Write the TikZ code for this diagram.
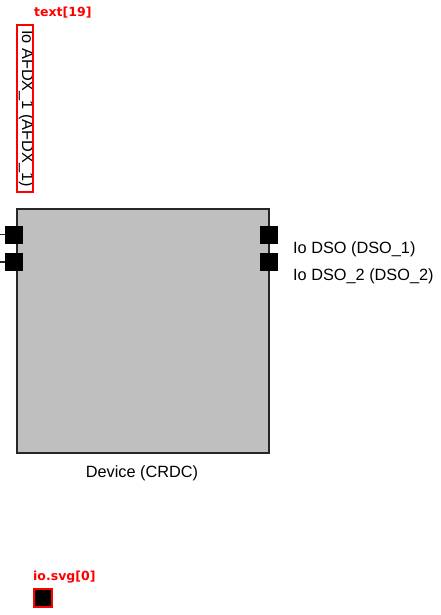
\documentclass[tikz,border=0pt]{standalone}
\usepackage{fontspec}
\setmainfont{Liberation Sans}
\newfontfamily\tagfont{DejaVu Sans}
\begin{document}
\begin{tikzpicture}[x=1pt,y=-1pt,
  port/.style={fill=black,draw=black,minimum size=17pt,inner sep=0pt,line width=0.8pt},
  lbl/.style={font=\fontsize{16.3}{19}\selectfont,inner sep=0pt},
  tag/.style={font=\tagfont\bfseries\fontsize{12.5}{15}\selectfont,text=red,inner sep=0pt},
  stub/.style={draw=black!85,line width=1.5pt}]
\useasboundingbox (0,0) rectangle (440,615);
% device
\node[draw=black!85,fill=black!25,line width=1.5pt,minimum width=252pt,minimum height=244pt,inner sep=0pt,anchor=north west] (dev) at (16,208) {};
\node[lbl,anchor=base] (devlbl) at (142,477) {Device (CRDC)};
% ports
\node[port] (pl1) at (14,234.5) {};
\node[port] (pl2) at (14,262) {};
\node[port] (pr1) at (268.5,234.5) {};
\node[port] (pr2) at (268.5,262) {};
\coordinate (el1) at (0,234.5);
\coordinate (el2) at (0,262);
\draw[stub] (pl1.west) -- (el1);
\draw[stub] (pl2.west) -- (el2);
\node[lbl,anchor=base west] (lr1) at (293,253) {Io DSO (DSO\_1)};
\node[lbl,anchor=base west] (lr2) at (293,280) {Io DSO\_2 (DSO\_2)};
% rotated text
\node[lbl,rotate=-90,anchor=base west] (afdx) at (22,30) {Io AFDX\_1 (AFDX\_1)};
\draw[red,line width=2pt] (17,25) rectangle (33,192);
\node[tag,anchor=base west] (t19) at (34,17) {text[19]};
% io.svg marker
\node[tag,anchor=base west] (iotag) at (33,580) {io.svg[0]};
\node[fill=black,draw=red,line width=2pt,minimum size=18pt,inner sep=0pt] (io) at (43,598) {};
\end{tikzpicture}
\end{document}
